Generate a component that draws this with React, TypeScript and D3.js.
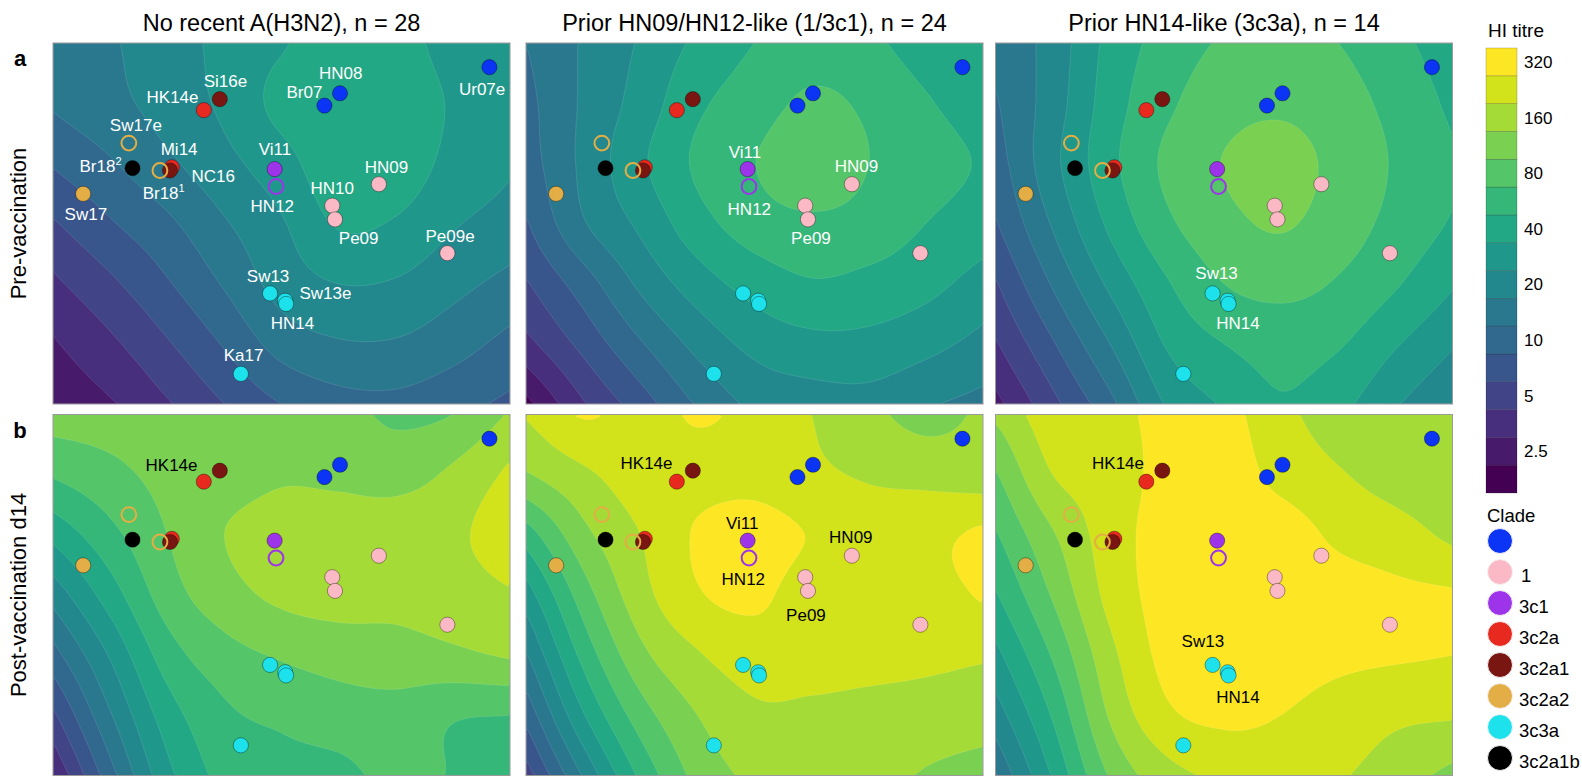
import * as d3 from 'd3';

// ---- text ----
const columnTitles = ['No recent A(H3N2), n = 28', 'Prior HN09/HN12-like (1/3c1), n = 24', 'Prior HN14-like (3c3a), n = 14'];
const rowNames = ['Pre-vaccination', 'Post-vaccination d14'];
const rowLetters = ['a', 'b'];

// ---- clades ----
const cladeNames = ['', '1', '3c1', '3c2a', '3c2a1', '3c2a2', '3c3a', '3c2a1b'];
const cladeColors = ['#0b34f4', '#fbb8c5', '#9d34ea', '#e8291f', '#7a1611', '#e3ae45', '#1de2ec', '#000000'];

// ---- antigens on the map (antigenic units) ----
const antigenNames = ['Ur07e', 'HN08', 'Br07', 'Si16e', 'HK14e', 'Sw17e', 'Br18-2', 'Mi14', 'NC16', 'Br18-1', 'Sw17', 'Vi11', 'HN12', 'HN09', 'HN10', 'Pe09', 'Pe09e', 'Sw13', 'Sw13e', 'HN14', 'Ka17'];
const antigenClade = [0, 0, 0, 4, 3, 5, 7, 3, 4, 5, 5, 2, 2, 1, 1, 1, 1, 6, 6, 6, 6];
const antigenX = [9.55, 6.28, 5.94, 3.65, 3.3, 1.66, 1.74, 2.6, 2.56, 2.34, 0.66, 4.85, 4.88, 7.13, 6.11, 6.17, 8.63, 4.75, 5.08, 5.1, 4.11];
const antigenY = [0.53, 1.1, 1.37, 1.23, 1.47, 2.19, 2.74, 2.72, 2.79, 2.79, 3.3, 2.76, 3.14, 3.09, 3.56, 3.86, 4.6, 5.48, 5.64, 5.71, 7.24];
const antigenOpen = [0, 0, 0, 0, 0, 1, 0, 0, 0, 1, 0, 0, 1, 0, 0, 0, 0, 0, 0, 0, 0];

// ---- landscape grid (log2(titre/10)) read at these map positions ----
const gridX = [0, 1.25, 2.5, 3.75, 5, 6.25, 7.5, 8.75, 10];
const gridY = [0, 1.32, 2.63, 3.95, 5.27, 6.58, 7.9];

const preNoRecent = [
  [0.4, 0.7, 1.0, 1.4, 1.7, 2.05, 1.95, 1.55, 1.3],
  [0.3, 0.6, 0.95, 1.35, 1.9, 2.15, 2.05, 1.7, 1.4],
  [-0.2, 0.2, 0.65, 1.1, 1.55, 2.1, 2.05, 1.6, 1.3],
  [-0.8, -0.3, 0.15, 0.7, 1.2, 1.8, 1.7, 1.3, 1.05],
  [-1.35, -0.85, -0.3, 0.3, 0.95, 1.25, 1.2, 0.9, 0.6],
  [-1.8, -1.35, -0.8, -0.2, 0.45, 0.7, 0.7, 0.45, 0.1],
  [-2.1, -1.8, -1.3, -0.75, -0.25, 0.05, 0.1, -0.1, -0.35],
];
const preHN09 = [
  [0.25, 0.8, 1.3, 1.85, 2.25, 2.45, 2.35, 2.0, 1.8],
  [0.1, 0.82, 1.45, 2.15, 2.5, 2.85, 2.65, 2.3, 2.0],
  [0.0, 0.86, 1.65, 2.33, 2.74, 3.1, 2.75, 2.45, 2.2],
  [-0.3, 0.7, 1.35, 2.05, 2.5, 2.65, 2.55, 2.25, 2.0],
  [-0.8, 0.0, 0.85, 1.5, 1.95, 2.2, 2.1, 1.9, 1.55],
  [-1.4, -0.6, 0.2, 0.9, 1.4, 1.6, 1.6, 1.4, 1.1],
  [-2.4, -1.3, -0.5, 0.3, 0.85, 1.0, 1.05, 0.8, 0.6],
];
const preHN14 = [
  [0.35, 0.95, 1.9, 2.45, 2.8, 2.85, 2.75, 2.4, 1.95],
  [0.2, 1.0, 2.0, 2.65, 3.05, 3.15, 2.95, 2.6, 2.15],
  [0.0, 1.1, 2.1, 2.85, 3.27, 3.45, 3.1, 2.7, 2.3],
  [-0.3, 0.8, 1.85, 2.65, 3.1, 3.3, 3.0, 2.6, 2.2],
  [-0.8, 0.3, 1.35, 2.2, 2.75, 2.9, 2.7, 2.3, 1.8],
  [-1.3, -0.3, 0.75, 1.8, 2.25, 2.45, 2.3, 1.8, 1.3],
  [-1.9, -0.9, 0.1, 1.3, 1.8, 2.2, 1.9, 1.3, 0.8],
];
const postNoRecent = [
  [3.5, 3.5, 3.55, 3.6, 3.6, 3.45, 3.15, 3.25, 3.8],
  [2.8, 3.1, 3.4, 3.55, 3.7, 3.65, 3.55, 3.85, 4.35],
  [1.9, 2.6, 3.25, 3.75, 3.95, 4.0, 4.05, 4.15, 4.55],
  [0.95, 2.0, 3.0, 3.55, 3.85, 3.95, 3.9, 4.0, 4.2],
  [0.05, 1.3, 2.5, 3.05, 3.3, 3.45, 3.55, 3.65, 3.8],
  [-0.85, 0.7, 2.0, 2.65, 2.85, 3.0, 3.05, 2.8, 2.75],
  [-1.75, 0.05, 1.6, 2.4, 2.55, 2.6, 2.9, 2.72, 2.55],
];
const postHN09 = [
  [4.3, 4.8, 4.55, 4.8, 4.6, 4.25, 3.9, 3.55, 3.85],
  [3.7, 4.15, 4.5, 4.6, 4.6, 4.35, 4.2, 4.1, 4.0],
  [2.5, 3.6, 4.25, 4.8, 4.95, 4.72, 4.5, 4.6, 4.85],
  [1.5, 3.0, 4.05, 4.7, 4.85, 4.5, 4.45, 4.55, 4.8],
  [0.7, 2.4, 3.6, 4.2, 4.5, 4.45, 4.4, 4.35, 4.3],
  [-0.1, 1.7, 3.0, 3.75, 4.15, 4.15, 4.1, 4.05, 4.0],
  [-1.0, 0.8, 2.35, 3.4, 3.85, 3.95, 3.95, 3.7, 3.5],
];
const postHN14 = [
  [3.85, 4.55, 4.65, 4.85, 4.9, 4.4, 4.0, 3.9, 3.85],
  [3.2, 4.25, 4.5, 4.9, 5.0, 4.6, 4.3, 4.05, 3.95],
  [2.7, 3.7, 4.5, 4.95, 5.05, 5.0, 4.65, 4.45, 4.15],
  [2.2, 3.3, 4.4, 4.95, 5.1, 5.05, 4.95, 4.85, 4.8],
  [1.6, 2.8, 4.1, 4.9, 5.05, 4.95, 4.85, 4.8, 4.75],
  [1.0, 2.3, 3.8, 4.65, 4.85, 4.75, 4.55, 4.35, 4.3],
  [0.3, 1.8, 3.3, 4.05, 4.35, 4.45, 4.3, 4.0, 3.6],
];
const landscapes = [
  [preNoRecent, preHN09, preHN14],
  [postNoRecent, postHN09, postHN14],
];

// colour bar ticks
const titreTicks = [320, 160, 80, 40, 20, 10, 5, 2.5];

// ---- layout ----
const PW = 457;
const PH = 361;
const colX = [53, 526, 995.5];
const rowY = [43, 414.5];
const FONT = "'Liberation Sans', Arial, Helvetica, sans-serif";

// label placement: [antigen, dx, dy, anchor]
const labelLayout: any[][][] = [
  [
    [['HN08', 0.7, -20.6], ['Br07', -20, -14], ['Ur07e', -7.3, 21.7], ['Si16e', 5.7, -18.6], ['HK14e', -31.3, -13],
      ['Sw17e', 7, -18.3], ['Mi14', 7.3, -18], ['Br18-2', -11, -2.6, 'end'], ['NC16', 43.3, 5.3], ['Br18-1', -17.3, 22.6, 'start'],
      ['Sw17', 2.7, 20.3], ['Vi11', 0.3, -20.3], ['HN12', -3.7, 20], ['HN09', 7.7, -17.6], ['HN10', 0, -17.4],
      ['Pe09', 23.7, 18.4], ['Pe09e', 2.7, -17.6], ['Sw13', -2, -17.3], ['Sw13e', 40.3, -8], ['HN14', 6.3, 18.7], ['Ka17', 2.7, -19]],
    [['Vi11', -2.7, -17.6], ['HN12', 0.3, 22.3], ['HN09', 4.7, -18.3], ['Pe09', 3, 19]],
    [['Sw13', 4, -20.6], ['HN14', 9.3, 18.7]],
  ],
  [
    [['HK14e', -32.3, -16.3]],
    [['HK14e', -30.3, -18.3], ['Vi11', -5.4, -18], ['HN12', -5.7, 20.6], ['HN09', -1, -18.6], ['Pe09', -2, 23.7]],
    [['HK14e', -28.3, -18.3], ['Sw13', -9.7, -23.6], ['HN14', 9.3, 21.3]],
  ],
];

function catmull(p0: number, p1: number, p2: number, p3: number, t: number) {
  const t2 = t * t, t3 = t2 * t;
  return 0.5 * (2 * p1 + (-p0 + p2) * t + (2 * p0 - 5 * p1 + 4 * p2 - p3) * t2 + (-p0 + 3 * p1 - 3 * p2 + p3) * t3);
}

function sampleGrid(grid: number[][], u: number, v: number) {
  const nr = grid.length, nc = grid[0].length;
  const g = (r: number, c: number): number => {
    if (r < 0) return 2 * g(0, c) - g(1, c);
    if (r > nr - 1) return 2 * g(nr - 1, c) - g(nr - 2, c);
    if (c < 0) return 2 * grid[r][0] - grid[r][1];
    if (c > nc - 1) return 2 * grid[r][nc - 1] - grid[r][nc - 2];
    return grid[r][c];
  };
  const iu = Math.max(0, Math.min(Math.floor(u), nc - 2));
  const iv = Math.max(0, Math.min(Math.floor(v), nr - 2));
  const fu = u - iu, fv = v - iv;
  const rows = [-1, 0, 1, 2].map(dr => catmull(g(iv + dr, iu - 1), g(iv + dr, iu), g(iv + dr, iu + 1), g(iv + dr, iu + 2), fu));
  return catmull(rows[0], rows[1], rows[2], rows[3], fv);
}

function AntigenLabel({ name, x, y, anchor, color }: any) {
  const sup = name === 'Br18-2' ? '2' : name === 'Br18-1' ? '1' : null;
  return (
    <text x={x} y={y + 6} textAnchor={anchor || 'middle'} fill={color} fontSize={17} fontFamily={FONT}>
      {sup ? 'Br18' : name}
      {sup && <tspan fontSize={11} dy={-7}>{sup}</tspan>}
    </text>
  );
}

export default function App() {
  const x = d3.scaleLinear([0, 10], [0, PW]);
  const y = d3.scaleLinear([0, 7.9], [0, PH]);
  const toU = d3.scaleLinear(gridX, d3.range(gridX.length));
  const toV = d3.scaleLinear(gridY, d3.range(gridY.length));
  const nx = 115, ny = 91;
  const thresholds = d3.range(-2.25, 5, 0.5);
  const band = (i: number) => d3.interpolateViridis(i / 15);
  const proj = d3.geoTransform({
    point(px: number, py: number) { (this as any).stream.point(px * PW / nx, py * PH / ny); },
  });
  const path = d3.geoPath(proj);
  const contourGen = d3.contours().size([nx, ny]).thresholds(thresholds);

  const barY = d3.scaleLinear([5.25, -2.75], [48, 493]);

  const panels: any[] = [];
  landscapes.forEach((row, r) => {
    row.forEach((grid, c) => {
      const values = new Array(nx * ny);
      for (let j = 0; j < ny; j++) {
        for (let i = 0; i < nx; i++) {
          const mx = x.invert((i + 0.5) * PW / nx);
          const my = y.invert((j + 0.5) * PH / ny);
          values[j * nx + i] = sampleGrid(grid, toU(mx), toV(my));
        }
      }
      const contours = contourGen(values);
      const id = `clip-${r}-${c}`;
      const labColor = r === 0 ? '#ffffff' : '#000000';
      panels.push(
        <g key={id} transform={`translate(${colX[c]},${rowY[r]})`}>
          <clipPath id={id}><rect width={PW} height={PH} /></clipPath>
          <g clipPath={`url(#${id})`}>
            <rect width={PW} height={PH} fill={band(0)} />
            {contours.map((ct, k) => (
              <path key={k} d={path(ct as any) || ''} fill={band(k + 1)} stroke="rgba(255,255,255,0.16)" strokeWidth={0.7} />
            ))}
          </g>
          <rect width={PW} height={PH} fill="none" stroke="#9a9a9a" strokeWidth={1} />
          {antigenNames.map((n, i) => {
            const col = cladeColors[antigenClade[i]];
            return antigenOpen[i] ? (
              <circle key={n} cx={x(antigenX[i])} cy={y(antigenY[i])} r={7.4} fill="none" stroke={col} strokeWidth={2} />
            ) : (
              <circle key={n} cx={x(antigenX[i])} cy={y(antigenY[i])} r={7.6} fill={col} stroke="rgba(0,0,0,0.45)" strokeWidth={0.8} />
            );
          })}
          {labelLayout[r][c].map(([n, dx, dy, anchor]: any) => {
            const i = antigenNames.indexOf(n);
            return <AntigenLabel key={n} name={n} x={x(antigenX[i]) + dx} y={y(antigenY[i]) + dy} anchor={anchor} color={labColor} />;
          })}
        </g>
      );
    });
  });

  return (
    <>
      <style>{'body{margin:0}'}</style>
      <svg width={1582} height={776} style={{ display: 'block', background: '#fff' }} fontFamily={FONT}>
        {columnTitles.map((t, c) => (
          <text key={t} x={colX[c] + PW / 2} y={30.5} textAnchor="middle" fontSize={23.5}>{t}</text>
        ))}
        {rowNames.map((t, r) => (
          <g key={t}>
            <text x={20} y={rowY[r] + 23} textAnchor="middle" fontSize={22} fontWeight="bold">{rowLetters[r]}</text>
            <text transform={`translate(26,${rowY[r] + PH / 2}) rotate(-90)`} textAnchor="middle" fontSize={22}>{t}</text>
          </g>
        ))}
        {panels}

        {/* colour bar */}
        <text x={1488} y={36.7} fontSize={19}>HI titre</text>
        {d3.range(16).map(b => (
          <rect key={b} x={1486} y={barY(-2.25 + 0.5 * b)} width={31} height={barY(-2.75 + 0.5 * b) - barY(-2.25 + 0.5 * b)}
            fill={band(b)} stroke="rgba(0,0,0,0.3)" strokeWidth={0.6} />
        ))}
        {titreTicks.map(v => (
          <text key={v} x={1524} y={barY(Math.log2(v / 10)) + 6} fontSize={17}>{v}</text>
        ))}

        {/* clade legend */}
        <text x={1487} y={522} fontSize={18.5}>Clade</text>
        {cladeNames.map((n, i) => (
          <g key={i} transform={`translate(1500,${541 + i * 31})`}>
            <circle r={12.5} fill={cladeColors[i]} stroke="#f2f2f2" strokeWidth={1} />
            <text x={n === '1' ? 21 : 19} y={10} fontSize={18.5}>{n}</text>
          </g>
        ))}
      </svg>
    </>
  );
}
